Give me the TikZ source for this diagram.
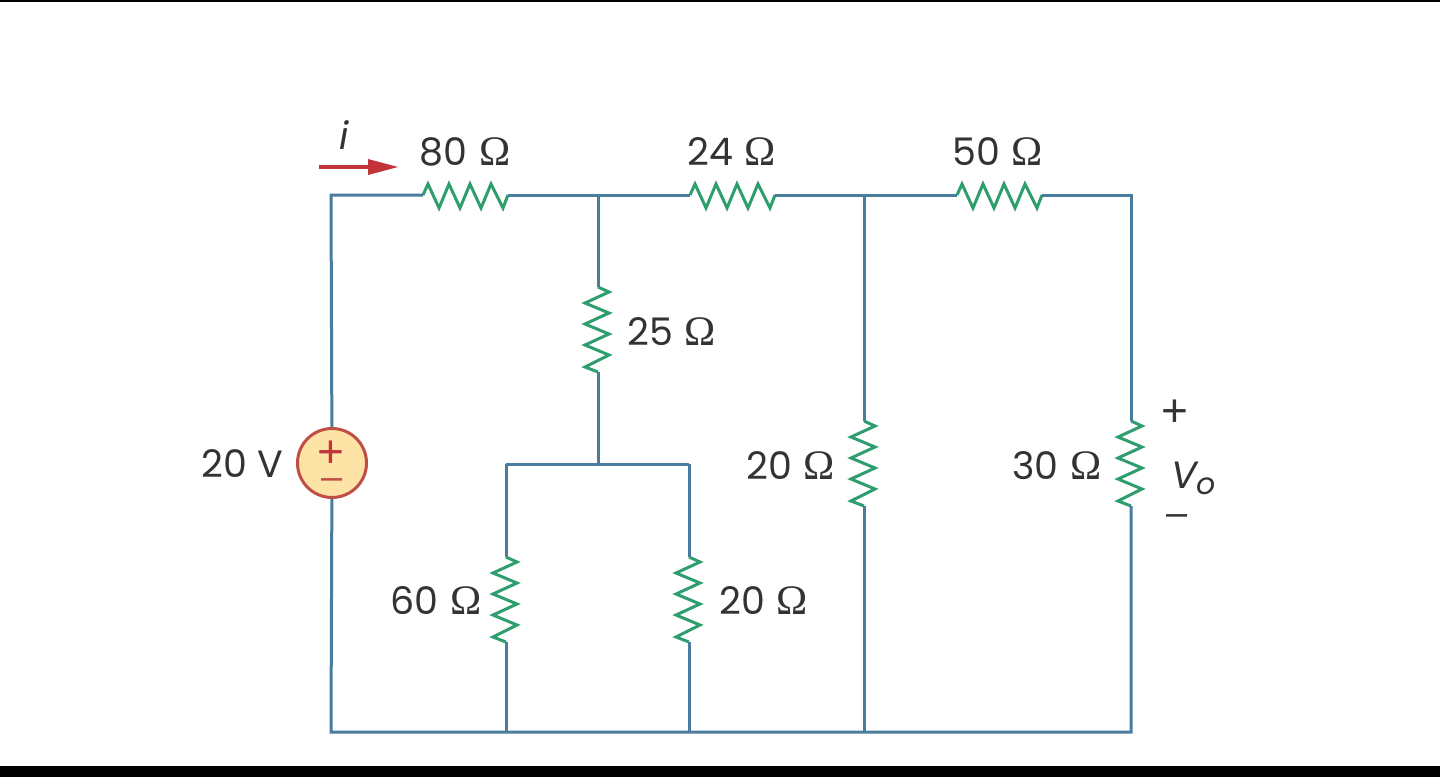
\documentclass[tikz,border=0pt]{standalone}
\usepackage{fontspec}
\setmainfont{Poppins}
\newfontfamily\omegafont{Liberation Serif}
\newfontfamily\symfont{Liberation Sans}
\newcommand{\ohm}{\hspace{0.3em}{\omegafont\fontsize{42}{42}\selectfont Ω}}
\definecolor{wirec}{HTML}{4A7C9E}
\definecolor{resc}{HTML}{2F9E6E}
\definecolor{redc}{HTML}{C2333A}
\definecolor{srcfill}{HTML}{FDE3A5}
\definecolor{srcline}{HTML}{BF4F45}
\definecolor{txtc}{HTML}{333333}
\tikzset{
  wire/.style={draw=wirec,line width=3pt},
  zig/.style={draw=resc,line width=3pt,line join=miter},
  lab/.style={text=txtc,inner sep=0pt,font=\fontsize{38}{40}\selectfont},
  res/.pic={
    \draw[zig] (0,0) -- (5,-11) -- (16,13) -- (26,-11) -- (37,13) -- (47,-11) -- (58,13) -- (68,-11) -- (80,13) -- (85,0);
    \coordinate (-a) at (0,0);
    \coordinate (-b) at (85,0);
  }
}
\begin{document}
\begin{tikzpicture}[x=1pt,y=-1pt]
\useasboundingbox (0,0) rectangle (1440,777);
\fill[white] (0,0) rectangle (1440,777);
\fill[black] (0,0) rectangle (1440,1.5);
\fill[black] (0,766) rectangle (1440,777);
% junctions
\coordinate (tl) at (331,195);
\coordinate (ta) at (598,195);
\coordinate (tb) at (864,195);
\coordinate (tr) at (1131,195);
\coordinate (bl) at (331,732);
\coordinate (bc) at (506,732);
\coordinate (bd) at (689,732);
\coordinate (bb) at (864,732);
\coordinate (br) at (1131,732);
\coordinate (mid) at (598,464);
\coordinate (midl) at (506,464);
\coordinate (midr) at (689,464);
% resistors
\pic (r80) at (423,195) {res};
\pic (r24) at (690,195) {res};
\pic (r50) at (957,195) {res};
\pic[rotate=-90] (r25) at (598,287) {res};
\pic[rotate=-90] (r20a) at (864,421) {res};
\pic[rotate=-90] (r30) at (1131,421) {res};
\pic[rotate=-90] (r60) at (506,557) {res};
\pic[rotate=-90] (r20b) at (689,557) {res};
% source
\node[circle,draw=srcline,fill=srcfill,line width=3pt,minimum size=69pt,inner sep=0pt] (src) at (332,463) {};
% wires
\draw[wire] (src) -- (tl) -- (r80-a);
\draw[wire] (r80-b) -- (ta) -- (r24-a);
\draw[wire] (r24-b) -- (tb) -- (r50-a);
\draw[wire] (r50-b) -- (tr) -- (r30-a);
\draw[wire] (r30-b) -- (br) -- (bl) -- (src);
\draw[wire] (ta) -- (r25-a);
\draw[wire] (r25-b) -- (mid);
\draw[wire] (midl) -- (midr);
\draw[wire] (midl) -- (r60-a);
\draw[wire] (r60-b) -- (bc);
\draw[wire] (midr) -- (r20b-a);
\draw[wire] (r20b-b) -- (bd);
\draw[wire] (tb) -- (r20a-a);
\draw[wire] (r20a-b) -- (bb);
% current arrow
\coordinate (arrs) at (319,167);
\coordinate (arre) at (368,167);
\draw[draw=redc,line width=3.4pt] (arrs) -- (arre);
\fill[redc] (368,159) -- (398,167) -- (368,175) -- cycle;
% labels
\node[lab] (l80) at (465,152) {80\ohm};
\node[lab] (l24) at (732,152) {24\ohm};
\node[lab] (l50) at (998,152) {50\ohm};
\node[lab] (l25) at (672,332) {25\ohm};
\node[lab] (l20v) at (242,464) {20 V};
\node[lab] (l60) at (436,601) {60\ohm};
\node[lab] (l20b) at (764,601) {20\ohm};
\node[lab] (l20a) at (791,466) {20\ohm};
\node[lab] (l30) at (1057,466) {30\ohm};
\node[lab] (li) at (344,135) {\itshape i};
\node[lab,font=\symfont\fontsize{46}{46}\selectfont] (lp) at (1175,413) {+};
\node[lab,font=\symfont\fontsize{38}{40}\selectfont] (lm) at (1177,520) {–};
\node[lab] (lvo) at (1184,475) {\itshape V};
\node[lab,font=\fontsize{30}{30}\selectfont] (lo) at (1206,486) {\itshape o};
\node[text=redc,inner sep=0pt,font=\symfont\fontsize{46}{46}\selectfont] (sp) at (331,454) {+};
\node[text=srcline,inner sep=0pt,font=\symfont\fontsize{38}{40}\selectfont] (sm) at (332,484) {–};
\end{tikzpicture}
\end{document}
